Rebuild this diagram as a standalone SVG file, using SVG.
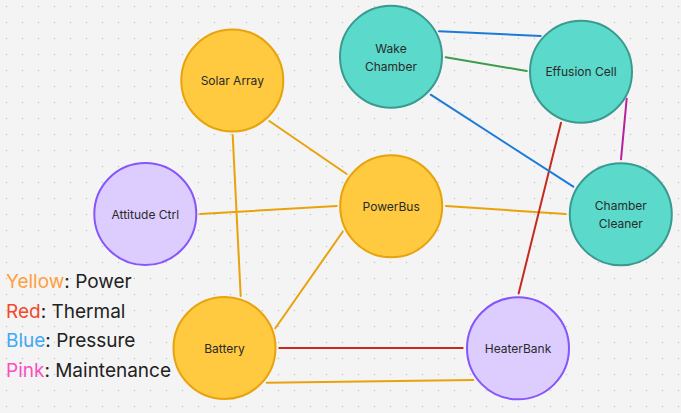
<svg xmlns="http://www.w3.org/2000/svg" width="681" height="413" viewBox="0 0 681 413">
<defs>
<pattern id="dots" x="0" y="0" width="16" height="16" patternUnits="userSpaceOnUse">
<circle cx="6.5" cy="6.5" r="0.75" fill="#c4c4c4"/>
</pattern>
<style>
.n text{font-family:Inter,"Noto Sans","Liberation Sans",sans-serif;font-size:12px;fill:#2a2a2a;text-anchor:middle;dominant-baseline:central}
.y circle{fill:#ffc940;stroke:#e8a30c;stroke-width:2}
.t circle{fill:#5bd9cb;stroke:#3a9a90;stroke-width:2}
.p circle{fill:#dccdfe;stroke:#8655fb;stroke-width:2}
.e line{stroke-width:2;stroke-linecap:round}
.o{stroke:#e8a30c}.r{stroke:#c62a1c}.b{stroke:#1d7bd8}.g{stroke:#3c9c4c}.m{stroke:#b5229c}
.lg{font-family:Inter,"Noto Sans","Liberation Sans",sans-serif;font-size:19px;fill:#222}
</style>
</defs>
<rect width="681" height="413" fill="#f4f4f4"/>
<rect width="681" height="413" fill="url(#dots)"/>
<g id="edges" class="e">
<line class="o" x1="269.3" y1="121" x2="346.7" y2="174"/>
<line class="o" x1="232.7" y1="135" x2="240.7" y2="296"/>
<line class="o" x1="200" y1="214" x2="336.7" y2="206"/>
<line class="o" x1="275.3" y1="328.3" x2="342.7" y2="231.7"/>
<line class="o" x1="446" y1="206" x2="565.7" y2="214"/>
<line class="r" x1="279.3" y1="348" x2="462.7" y2="348"/>
<line class="o" x1="266.7" y1="382.7" x2="473.3" y2="380"/>
<line class="r" x1="518.7" y1="293.3" x2="561" y2="122.7"/>
<line class="b" x1="439" y1="31.3" x2="540.7" y2="36"/>
<line class="g" x1="445.7" y1="57.3" x2="526.7" y2="71"/>
<line class="b" x1="430.7" y1="94.7" x2="573.3" y2="186.7"/>
<line class="m" x1="626.7" y1="98.7" x2="621" y2="159.3"/>
</g>
<g id="solar-array" class="n y"><circle cx="232.3" cy="80.5" r="51"/><text x="232.3" y="80.5">Solar Array</text></g>
<g id="wake-chamber" class="n t"><circle cx="391" cy="56.7" r="51"/><text x="391" y="48.5">Wake</text><text x="391" y="66.5">Chamber</text></g>
<g id="effusion-cell" class="n t"><circle cx="581" cy="71.7" r="51"/><text x="581" y="71.7">Effusion Cell</text></g>
<g id="chamber-cleaner" class="n t"><circle cx="620.8" cy="214.3" r="51"/><text x="620.8" y="205.5">Chamber</text><text x="620.8" y="223.5">Cleaner</text></g>
<g id="powerbus" class="n y"><circle cx="391.2" cy="206.3" r="51"/><text x="391.2" y="206.3">PowerBus</text></g>
<g id="attitude-ctrl" class="n p"><circle cx="145.3" cy="214" r="51"/><text x="145.3" y="214.5">Attitude Ctrl</text></g>
<g id="battery" class="n y"><circle cx="224.5" cy="348" r="51"/><text x="224.5" y="348.5">Battery</text></g>
<g id="heaterbank" class="n p"><circle cx="518" cy="348.3" r="51"/><text x="518" y="348.5">HeaterBank</text></g>
<g id="legend" class="lg">
<text x="6" y="288.3"><tspan fill="#ff9f40">Yellow</tspan>: Power</text>
<text x="6" y="317.8"><tspan fill="#f2482a">Red</tspan>: Thermal</text>
<text x="6" y="347.3"><tspan fill="#40a9f5">Blue</tspan>: Pressure</text>
<text x="6" y="376.8"><tspan fill="#f94fc0">Pink</tspan>: Maintenance</text>
</g>
</svg>
